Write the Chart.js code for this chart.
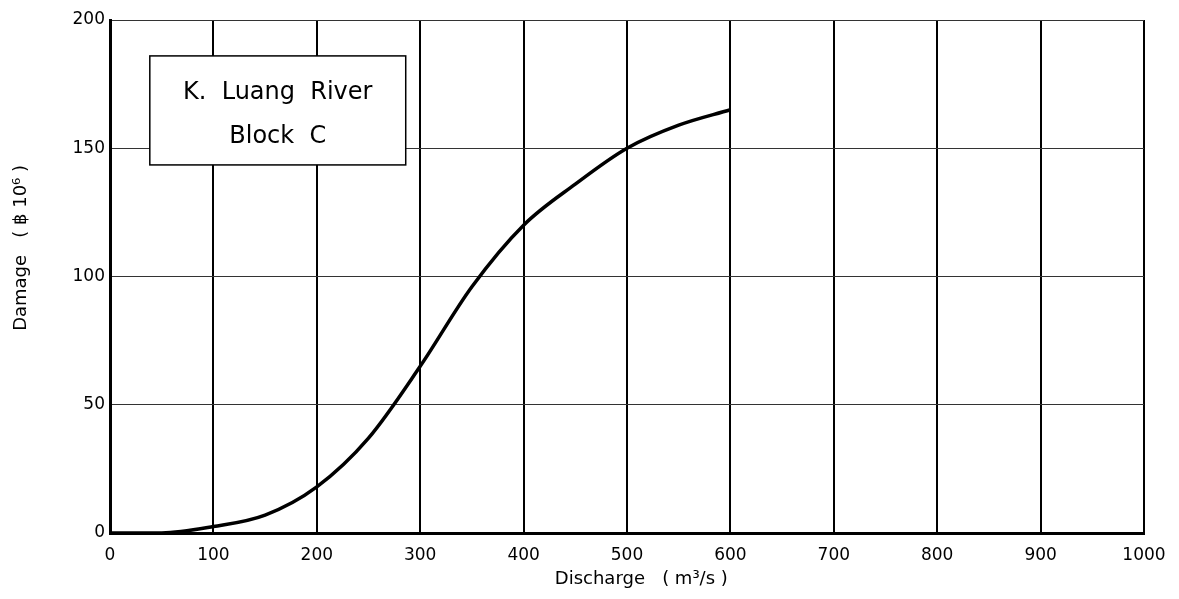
<!DOCTYPE html>
<html>
<head>
<meta charset="utf-8">
<script src="https://cdn.jsdelivr.net/npm/chart.js@4.4.1/dist/chart.umd.min.js"></script>
<style>
  html, body { margin: 0; padding: 0; background: #fff; }
  #wrap { width: 1179px; height: 599px; }
</style>
</head>
<body>
<div id="wrap"><canvas id="c" width="1179" height="599"></canvas></div>
<script>
// ---- data ----
const discharge = [0, 50, 100, 150, 200, 250, 300, 350, 400, 450, 500, 550, 600];
const damage    = [0, 0, 2.5, 7, 18, 37, 65, 96, 120, 136, 150, 159, 165];
const xTicks = [0, 100, 200, 300, 400, 500, 600, 700, 800, 900, 1000];
const yTicks = [0, 50, 100, 150, 200];
const boxLines = ['K.  Luang  River', 'Block  C'];
const xTitle = 'Discharge   ( m³/s )';
const yTitle = 'Damage   ( ฿ 10⁶ )';

const FONT = "'DejaVu Sans', sans-serif";

const points = discharge.map((x, i) => ({ x: x, y: damage[i] }));

const boxPlugin = {
  id: 'labelBox',
  beforeDatasetsDraw(chart, args, opts) {
    const { ctx, scales: { x, y } } = chart;
    const l = x.getPixelForValue(opts.x0), r = x.getPixelForValue(opts.x1);
    const t = y.getPixelForValue(opts.y0), b = y.getPixelForValue(opts.y1);
    ctx.save();
    ctx.fillStyle = '#fff';
    ctx.fillRect(l, t, r - l, b - t);
    ctx.strokeStyle = '#000';
    ctx.lineWidth = 1.5;
    ctx.strokeRect(l, t, r - l, b - t);
    ctx.fillStyle = '#000';
    ctx.font = '24px ' + FONT;
    ctx.textAlign = 'center';
    ctx.textBaseline = 'middle';
    const cx = (l + r) / 2;
    const h = b - t;
    ctx.fillText(boxLines[0], cx, t + h * 0.34);
    ctx.fillText(boxLines[1], cx, t + h * 0.74);
    ctx.restore();
  }
};

new Chart(document.getElementById('c'), {
  type: 'line',
  data: {
    datasets: [{
      data: points,
      borderColor: '#000',
      borderWidth: 3.5,
      pointRadius: 0,
      fill: false,
      cubicInterpolationMode: 'monotone'
    }]
  },
  options: {
    responsive: false,
    animation: false,
    devicePixelRatio: 1,
    layout: { padding: { top: 20, right: 35, left: 0, bottom: 0 } },
    plugins: {
      legend: { display: false },
      tooltip: { enabled: false },
      labelBox: { x0: 38.5, x1: 286, y0: 186, y1: 143.5 }
    },
    scales: {
      x: {
        type: 'linear',
        min: 0, max: 1000,
        afterBuildTicks: s => { s.ticks = xTicks.map(v => ({ value: v })); },
        afterFit: s => { s.height = 66; },
        ticks: { color: '#000', font: { family: FONT, size: 17 }, padding: 12, maxRotation: 0, callback: v => String(v) },
        grid: { color: '#000', lineWidth: 2, drawTicks: false },
        border: { color: '#000', width: 3 },
        title: { display: true, text: '     ' + xTitle, color: '#000', font: { family: FONT, size: 18 }, padding: { top: 0, bottom: 9 } }
      },
      y: {
        type: 'linear',
        min: 0, max: 200,
        afterBuildTicks: s => { s.ticks = yTicks.map(v => ({ value: v })); },
        afterFit: s => { s.width = 110; },
        ticks: { color: '#000', font: { family: FONT, size: 17 }, padding: 5, callback: v => String(v) },
        grid: { color: '#333', lineWidth: 1, drawTicks: false },
        border: { color: '#000', width: 3 },
        title: { display: true, text: '          ' + yTitle, color: '#000', font: { family: FONT, size: 18 }, padding: { top: 11, bottom: 0 } }
      }
    }
  },
  plugins: [boxPlugin]
});
</script>
</body>
</html>
